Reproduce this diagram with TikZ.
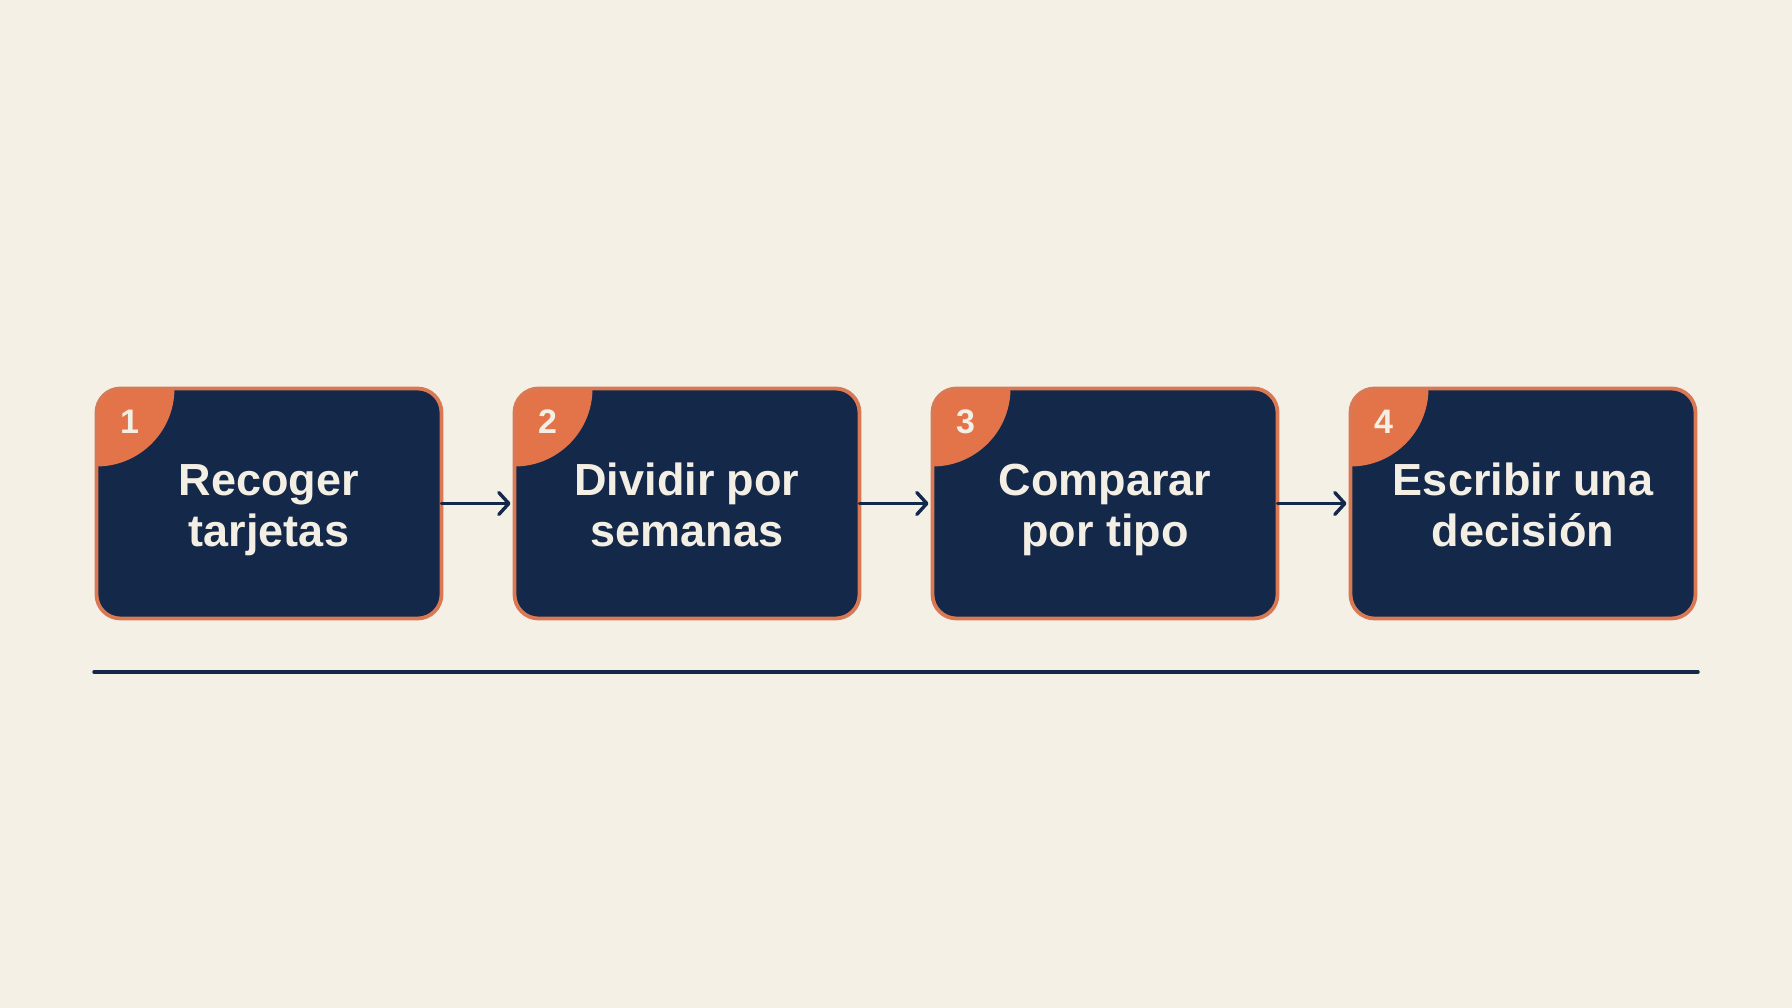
\documentclass[tikz,border=0pt]{standalone}
\usepackage{fontspec}
\setmainfont{Liberation Sans}
\usetikzlibrary{arrows.meta}
\definecolor{bg}{HTML}{F4F0E6}
\definecolor{navy}{HTML}{142849}
\definecolor{orng}{HTML}{E3744A}
\definecolor{brd}{HTML}{D97852}
\definecolor{cream}{HTML}{F4EFE4}
\tikzset{
  stepbox/.style={rectangle, rounded corners=24pt, minimum width=345pt, minimum height=230pt,
    inner sep=0pt, outer sep=0pt},
  steptext/.style={inner sep=0pt, align=center, text=cream,
    font=\bfseries\fontsize{45}{51}\selectfont},
  stepframe/.style={draw=brd, line width=3.8pt, rounded corners=24pt},
  numlabel/.style={text=cream, font=\bfseries\fontsize{34}{34}\selectfont, inner sep=0pt, anchor=base},
  flowarrow/.style={draw=navy, line width=3.4pt, line cap=round,
    -{Straight Barb[length=10pt,width=22pt,line width=3.4pt,round]}, shorten >=4pt},
  ruleline/.style={draw=navy, line width=3.5pt, line cap=round}
}
\begin{document}
\begin{tikzpicture}[x=1pt,y=-1pt]
\useasboundingbox[fill=bg] (0,0) rectangle (1792,1008);
\foreach \i/\cx/\la/\lb in {1/269/Recoger/tarjetas,2/687/Dividir por/semanas,3/1105/Comparar/por tipo,4/1523/Escribir una/decisión}{
  \node[stepbox, fill=navy] (b\i) at (\cx,503.5) {};
  \begin{scope}
    \clip[rounded corners=24pt] (b\i.north west) rectangle (b\i.south east);
    \fill[orng] (b\i.north west) circle (78);
  \end{scope}
  \draw[stepframe] (b\i.north west) rectangle (b\i.south east);
  \node[steptext] (t\i) at (\cx,510.3) {\strut\la\\\strut\lb};
  \node[numlabel] (n\i) at ([shift={(33,45)}]b\i.north west) {\i};
}
\draw[flowarrow] (b1.east) -- (b2.west);
\draw[flowarrow] (b2.east) -- (b3.west);
\draw[flowarrow] (b3.east) -- (b4.west);
\coordinate (l1) at (94,672);
\coordinate (l2) at (1698,672);
\draw[ruleline] (l1) -- (l2);
\end{tikzpicture}
\end{document}
